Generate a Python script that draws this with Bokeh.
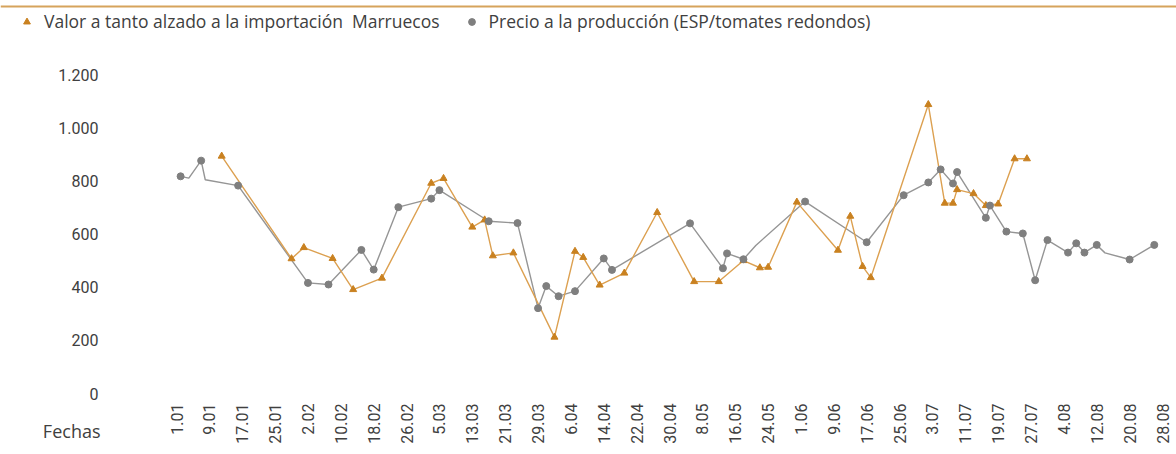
import math
import pandas as pd
from bokeh.plotting import figure
from bokeh.models import (Range1d, FixedTicker, Legend, LegendItem, Label, Span,
                          LinearAxis)
from bokeh.embed import file_html
from bokeh.resources import INLINE

# ---------------- data ----------------
AÑO = "2020"

tick_labels = ["1.01", "9.01", "17.01", "25.01", "2.02", "10.02", "18.02", "26.02",
               "5.03", "13.03", "21.03", "29.03", "6.04", "14.04", "22.04", "30.04",
               "8.05", "16.05", "24.05", "1.06", "9.06", "17.06", "25.06", "3.07",
               "11.07", "19.07", "27.07", "4.08", "12.08", "20.08", "28.08"]

y_ticks = [0, 200, 400, 600, 800, 1000, 1200]
y_tick_labels = ["0", "200", "400", "600", "800", "1.000", "1.200"]

importacion_fechas = ["12.01", "29.01", "01.02", "08.02", "13.02", "20.02", "03.03", "06.03",
                      "13.03", "16.03", "18.03", "23.03", "02.04", "07.04", "09.04", "13.04",
                      "19.04", "27.04", "06.05", "12.05", "18.05", "22.05", "24.05", "31.05",
                      "10.06", "13.06", "16.06", "18.06", "02.07", "06.07", "08.07", "09.07",
                      "13.07", "16.07", "19.07", "23.07", "26.07"]
importacion_valores = [893, 507, 549, 508, 391, 434, 791, 809,
                       626, 653, 518, 529, 212, 535, 512, 408,
                       453, 681, 421, 421, 500, 473, 475, 720,
                       539, 667, 478, 436, 1087, 716, 716, 767,
                       752, 707, 713, 883, 883]

precio_fechas = ["02.01", "04.01", "07.01", "08.01", "16.01", "02.02", "07.02", "15.02",
                 "18.02", "24.02", "03.03", "05.03", "17.03", "24.03", "29.03", "31.03",
                 "03.04", "07.04", "14.04", "16.04", "05.05", "13.05", "14.05", "18.05",
                 "21.05", "02.06", "17.06", "26.06", "02.07", "05.07", "08.07", "09.07",
                 "16.07", "17.07", "21.07", "25.07", "28.07", "31.07", "05.08", "07.08",
                 "09.08", "12.08", "14.08", "20.08", "26.08"]
precio_valores = [817, 810, 876, 804, 782, 416, 410, 540,
                  466, 701, 733, 765, 648, 641, 321, 404,
                  366, 385, 508, 465, 640, 471, 527, 505,
                  557, 722, 569, 746, 794, 843, 790, 833,
                  661, 707, 609, 602, 426, 577, 530, 565,
                  530, 559, 529, 504, 559]
precio_marcador = [True, False, True, False, True, True, True, True,
                   True, True, True, True, True, True, True, True,
                   True, True, True, True, True, True, True, True,
                   False, True, True, True, True, True, True, True,
                   True, True, True, True, True, True, True, True,
                   True, True, False, True, True]

serie_importacion = "Valor a tanto alzado a la importación  Marruecos"
serie_precio = "Precio a la producción (ESP/tomates redondos)"
x_title = "Fechas"

# ---------------- helpers ----------------
ORIGEN = pd.Timestamp(AÑO + "-01-01")


def dias(fechas):
    return [int((pd.to_datetime(f + "." + AÑO, format="%d.%m.%Y") - ORIGEN).days) for f in fechas]


imp_x = dias(importacion_fechas)
pre_x = dias(precio_fechas)
tick_x = dias(tick_labels)
pre_mx = [x for x, m in zip(pre_x, precio_marcador) if m]
pre_my = [y for y, m in zip(precio_valores, precio_marcador) if m]

NUM_FONT = "Roboto"
TXT_FONT = "Open Sans"
TXT = "#404040"
ORANGE_M = "#C98120"
ORANGE_L = "#DCA050"
GRAY_M = "#7F7F7F"
GRAY_L = "#959595"

# ---- layout (pixel anchors of the canvas) ----
W, H = 1176, 454
PX_X0, PX_X1 = 176.0, 1162.0      # canvas x of first / last tick
PX_Y0, PX_Y1 = 393.0, 74.0        # canvas y of first / last y tick
sx = (PX_X1 - PX_X0) / (tick_x[-1] - tick_x[0])
sy = (PX_Y0 - PX_Y1) / (y_ticks[-1] - y_ticks[0])


def cx(px):   # canvas x -> data x
    return tick_x[0] + (px - PX_X0) / sx


def cy(py):   # canvas y -> data y
    return y_ticks[0] + (PX_Y0 - py) / sy


p = figure(width=W, height=H, output_backend="svg", toolbar_location=None,
           x_range=Range1d(cx(0), cx(W)), y_range=Range1d(cy(H), cy(0)),
           x_axis_location=None, y_axis_location=None,
           min_border=0, min_border_left=0, min_border_right=0,
           min_border_top=0, min_border_bottom=0)
p.outline_line_color = None
p.xgrid.grid_line_color = None
p.ygrid.grid_line_color = None
p.background_fill_color = "white"
p.border_fill_color = "white"

# top rule
p.add_layout(Span(location=cy(6), dimension="width", line_color="#D6A35C", line_width=2))

l_pre = p.line(pre_x, precio_valores, line_color=GRAY_L, line_width=1.4)
l_imp = p.line(imp_x, importacion_valores, line_color=ORANGE_L, line_width=1.4)
s_imp = p.scatter(imp_x, importacion_valores, marker="triangle", size=7,
                  fill_color=ORANGE_M, line_color=ORANGE_M)
s_pre = p.scatter(pre_mx, pre_my, marker="circle", size=7,
                  fill_color=GRAY_M, line_color=GRAY_M)

# axes fixed at the data origin
yaxis = LinearAxis(fixed_location=tick_x[0], ticker=FixedTicker(ticks=y_ticks),
                   major_label_overrides={t: s for t, s in zip(y_ticks, y_tick_labels)})
xaxis = LinearAxis(fixed_location=y_ticks[0], ticker=FixedTicker(ticks=tick_x),
                   major_label_overrides={t: s for t, s in zip(tick_x, tick_labels)},
                   major_label_orientation=math.pi / 2)
for ax in (xaxis, yaxis):
    ax.axis_line_color = None
    ax.major_tick_line_color = None
    ax.minor_tick_line_color = None
    ax.major_tick_in = 0
    ax.major_tick_out = 0
    ax.major_label_text_font = NUM_FONT
    ax.major_label_text_font_size = "16px"
    ax.major_label_text_color = TXT
yaxis.major_label_standoff = 78
xaxis.major_label_standoff = 10
p.add_layout(yaxis, "left")
p.add_layout(xaxis, "below")

p.add_layout(Label(x=cx(100), y=cy(430), text=x_title, text_align="right",
                   text_baseline="middle", text_font=TXT_FONT, text_font_size="18px",
                   text_color=TXT))

legend = Legend(items=[LegendItem(label=serie_importacion, renderers=[s_imp]),
                       LegendItem(label=serie_precio, renderers=[s_pre])],
                location=(18, H - 33), orientation="horizontal",
                padding=0, margin=0, spacing=23, glyph_width=17, glyph_height=17,
                label_standoff=9, label_height=17,
                border_line_color=None, background_fill_alpha=0,
                label_text_font=TXT_FONT, label_text_font_size="17.5px", label_text_color=TXT)
p.add_layout(legend, "center")

open("out.html", "w").write(file_html(p, INLINE))
